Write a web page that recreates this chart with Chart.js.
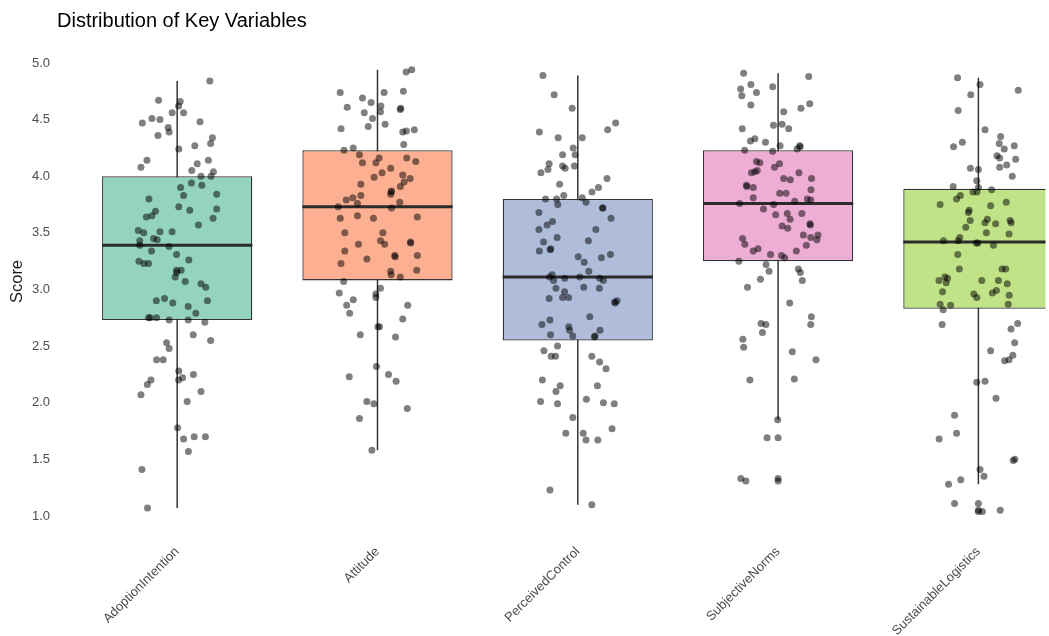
<!DOCTYPE html>
<html>
<head>
<meta charset="utf-8">
<title>Distribution of Key Variables</title>
<script src="https://cdn.jsdelivr.net/npm/chart.js@4.4.1/dist/chart.umd.min.js"></script>
<style>
  html, body { margin: 0; padding: 0; background: #ffffff; overflow: hidden; }
  canvas { display: block; }
</style>
</head>
<body>
<canvas id="chart" width="1049" height="636"></canvas>
<script>
// Variables shown along the x axis
const categories = ['AdoptionIntention', 'Attitude', 'PerceivedControl', 'SubjectiveNorms', 'SustainableLogistics'];
const yTicks = [1.0, 1.5, 2.0, 2.5, 3.0, 3.5, 4.0, 4.5, 5.0];

// Box-plot summaries per variable
const whiskerLow  = [1.07, 1.58, 1.10, 1.85, 1.28];
const quartile1   = [2.73, 3.08, 2.55, 3.25, 2.83];
const medians     = [3.39, 3.73, 3.11, 3.76, 3.42];
const quartile3   = [4.00, 4.23, 3.80, 4.23, 3.89];
const whiskerHigh = [4.84, 4.94, 4.89, 4.91, 4.87];

// Values beyond the whiskers, drawn on the box centre line
const outlierCategory = [3, 3, 3, 4, 4, 4];
const outlierValues   = [1.69, 1.33, 1.31, 1.11, 1.05, 1.04];

// Individual scores and their horizontal jitter (category units)
const adoptionScores = [
  4.84,4.67,4.66,4.62,4.56,4.56,4.47,4.51,4.50,4.48,
  4.43,4.39,4.36,4.34,4.29,4.27,4.24,4.14,4.08,4.14,
  4.11,4.05,4.04,4.00,4.00,3.94,3.92,3.90,3.83,3.84,
  3.80,3.73,3.70,3.71,3.69,3.65,3.64,3.63,3.57,3.52,
  3.50,3.51,3.51,3.45,3.44,3.43,3.39,3.38,3.34,3.31,
  3.26,3.25,3.23,3.23,3.17,3.17,3.11,3.15,3.07,3.05,
  3.02,2.90,2.92,2.88,2.90,2.85,2.79,2.75,2.75,2.75,
  2.73,2.73,2.71,2.60,2.55,2.53,2.48,2.38,2.38,2.28,
  2.20,2.22,2.25,2.20,2.16,2.07,2.10,2.01,1.78,1.68,
  1.70,1.70,1.57,1.41,1.07
];
const adoptionJitter = [
  0.163,-0.093,0.015,0.007,-0.025,0.032,-0.174,-0.126,-0.086,0.114,
  -0.045,-0.040,-0.096,0.176,0.167,0.088,0.008,-0.151,-0.181,0.156,
  0.100,0.073,0.181,0.119,0.169,0.071,0.123,0.017,0.032,0.197,
  -0.141,0.008,0.063,0.197,-0.108,-0.126,-0.154,0.179,0.106,-0.194,
  -0.167,-0.086,-0.025,-0.118,-0.100,-0.187,-0.187,-0.041,-0.128,-0.003,
  0.058,-0.191,-0.166,-0.143,-0.003,0.020,-0.010,-0.003,0.040,0.119,
  0.143,-0.104,-0.063,-0.022,0.151,0.055,0.093,-0.143,-0.134,-0.103,
  -0.040,0.055,0.138,0.080,0.167,-0.053,-0.040,-0.103,-0.070,0.008,
  0.007,0.027,0.081,-0.131,-0.149,-0.181,0.119,0.050,0.002,0.032,
  0.085,0.141,0.056,-0.176,-0.148
];

const attitudeScores = [
  4.92,4.94,4.74,4.69,4.74,4.75,4.61,4.65,4.62,4.57,
  4.56,4.59,4.51,4.44,4.46,4.42,4.39,4.40,4.41,4.28,
  4.23,4.25,4.19,4.16,4.16,4.13,4.12,4.12,4.07,4.03,
  4.01,3.98,3.99,3.95,3.93,3.91,3.86,3.84,3.83,3.79,
  3.81,3.76,3.77,3.73,3.72,3.63,3.65,3.63,3.64,3.50,
  3.50,3.43,3.40,3.40,3.42,3.34,3.30,3.30,3.27,3.23,
  3.16,3.13,3.17,3.11,3.07,2.97,3.01,2.96,2.93,2.91,
  2.86,2.86,2.79,2.74,2.67,2.67,2.60,2.58,2.32,2.23,
  2.25,2.19,2.01,1.99,1.95,1.86,1.58,
  4.60,3.87,3.41,3.29
];
const attitudeJitter = [
  0.143,0.171,-0.186,-0.075,0.033,0.129,-0.151,-0.032,0.017,0.015,
  -0.066,0.114,-0.025,-0.046,0.038,-0.182,0.126,0.144,0.184,0.131,
  -0.167,-0.121,-0.090,0.008,0.146,0.191,-0.075,-0.008,0.066,0.023,
  0.126,0.163,-0.017,0.133,-0.083,0.114,0.068,0.066,-0.083,-0.156,
  -0.123,-0.100,0.111,-0.196,0.070,-0.186,-0.100,-0.020,0.199,-0.163,
  0.027,0.015,0.036,-0.095,0.164,-0.163,0.086,0.199,-0.053,-0.182,
  0.066,0.068,0.196,0.114,-0.169,-0.191,0.015,-0.008,-0.008,-0.121,
  -0.154,0.151,-0.139,0.126,0.002,0.010,-0.086,0.090,-0.005,-0.141,
  0.055,0.093,-0.053,-0.018,0.149,-0.090,-0.028,
  0.116,0.070,0.166,0.088
];

const controlScores = [
  4.89,4.72,4.60,4.39,4.34,4.34,4.41,4.47,4.25,4.19,
  4.19,4.11,4.06,4.09,4.07,4.09,4.03,3.98,3.93,3.90,
  3.86,3.83,3.80,3.80,3.75,3.81,3.77,3.72,3.68,3.63,
  3.57,3.60,3.53,3.53,3.46,3.43,3.42,3.34,3.35,3.29,
  3.24,3.28,3.31,3.16,3.13,3.11,3.08,3.10,3.11,3.10,
  3.08,3.01,3.02,3.01,2.92,2.98,2.93,2.93,2.89,2.90,
  2.76,2.73,2.69,2.67,2.64,2.64,2.60,2.59,2.58,2.50,
  2.46,2.41,2.41,2.41,2.36,2.30,2.20,2.15,2.10,2.15,
  2.01,1.99,2.03,2.00,1.99,1.87,1.73,1.73,1.67,1.67,
  1.77,1.23,1.10,
  3.72,3.36,2.88,2.59
];
const controlJitter = [
  -0.174,-0.118,-0.028,-0.192,-0.098,0.022,0.149,0.189,-0.023,-0.013,
  -0.076,-0.143,-0.149,-0.076,-0.063,-0.017,-0.184,0.146,-0.091,0.103,
  0.071,-0.070,-0.161,-0.106,-0.100,0.022,0.041,0.123,-0.194,0.166,
  -0.153,-0.126,-0.194,0.090,-0.103,0.053,-0.171,-0.192,-0.138,0.002,
  0.032,0.118,0.163,0.055,-0.128,-0.141,-0.121,-0.065,0.010,0.109,
  0.128,-0.109,0.030,0.108,-0.143,-0.066,-0.076,-0.046,0.184,0.196,
  0.060,-0.139,-0.179,-0.045,-0.041,0.111,-0.136,-0.025,0.083,-0.101,
  -0.169,-0.133,-0.111,0.070,0.109,0.141,-0.177,-0.088,-0.109,0.098,
  -0.186,-0.101,0.043,0.128,0.182,-0.025,-0.060,0.027,0.041,0.100,
  0.171,-0.139,0.070,
  0.126,-0.135,0.187,0.086
];

const normsScores = [
  4.91,4.88,4.81,4.77,4.71,4.74,4.79,4.63,4.60,4.64,
  4.57,4.42,4.45,4.46,4.42,4.31,4.33,4.30,4.27,4.24,
  4.27,4.23,4.22,4.13,4.12,4.08,4.11,4.03,4.04,4.05,
  4.03,3.98,3.97,3.98,3.92,3.90,3.88,3.85,3.85,3.81,
  3.78,3.80,3.79,3.76,3.75,3.71,3.66,3.67,3.67,3.62,
  3.58,3.56,3.54,3.48,3.46,3.48,3.44,3.45,3.40,3.39,
  3.34,3.36,3.34,3.31,3.30,3.28,3.25,3.22,3.16,3.18,
  3.15,3.08,3.09,3.02,2.88,2.76,2.70,2.69,2.69,2.62,
  2.56,2.49,2.45,2.38,2.20,2.21,1.85,1.69,
  1.33,1.31,
  4.26,3.91,3.57
];
const normsJitter = [
  -0.172,0.153,-0.136,-0.187,-0.181,-0.108,-0.027,-0.136,0.114,0.158,
  0.028,-0.179,-0.023,0.020,0.053,-0.138,-0.116,-0.063,0.010,0.095,
  0.108,-0.167,-0.027,-0.108,-0.091,-0.018,0.007,-0.133,-0.116,-0.104,
  0.104,0.028,0.061,0.167,-0.158,-0.124,0.164,0.008,0.040,-0.124,
  0.083,0.146,0.163,-0.192,-0.022,-0.073,-0.012,0.046,0.119,0.060,
  0.159,0.020,0.048,0.126,0.163,0.199,0.194,-0.177,-0.166,0.141,
  -0.124,-0.100,0.091,-0.038,0.017,0.033,-0.196,-0.060,-0.045,0.101,
  0.111,0.121,-0.088,-0.153,0.058,0.166,-0.085,-0.061,0.163,-0.078,
  -0.176,-0.172,0.071,0.189,-0.141,0.081,-0.002,-0.055,
  -0.186,-0.161,
  0.110,-0.156,0.161
];

const logisticsScores = [
  4.87,4.81,4.72,4.76,4.58,4.41,4.26,4.30,4.35,4.29,
  4.24,4.27,4.18,4.16,4.15,4.07,4.06,4.08,4.10,4.00,
  3.96,3.91,3.90,3.86,3.86,3.88,3.83,3.80,3.75,3.77,
  3.70,3.68,3.74,3.61,3.55,3.62,3.59,3.58,3.61,3.59,
  3.50,3.49,3.46,3.43,3.43,3.41,3.41,3.39,3.31,3.18,
  3.18,3.18,3.08,3.11,3.10,3.06,3.08,3.08,3.05,2.98,
  2.96,2.93,2.97,2.99,2.95,2.87,2.86,2.82,2.87,2.69,
  2.70,2.65,2.53,2.46,2.42,2.37,2.38,2.18,2.19,2.04,
  1.89,1.68,1.73,1.49,1.50,1.41,1.35,1.28,1.32,1.11,
  1.04,1.05
];
const logisticsJitter = [
  -0.104,0.008,-0.038,0.199,-0.101,0.033,-0.124,-0.080,0.111,0.104,
  0.129,0.179,0.093,0.106,0.186,-0.040,0.000,0.106,0.141,0.169,
  -0.008,-0.126,0.000,-0.027,-0.007,0.066,-0.090,-0.109,-0.191,0.139,
  -0.046,-0.050,0.061,-0.041,-0.063,0.045,0.033,0.086,0.158,0.164,
  0.040,0.153,-0.093,-0.174,-0.101,-0.010,-0.003,0.075,-0.103,-0.095,
  0.118,0.136,-0.197,-0.167,-0.154,-0.161,0.017,0.100,0.144,-0.179,
  -0.023,-0.008,0.070,0.090,0.154,-0.191,-0.139,-0.176,0.149,-0.181,
  0.196,0.163,0.181,0.061,0.172,0.131,0.153,-0.008,0.033,0.088,
  -0.119,-0.196,-0.109,0.174,0.182,0.008,0.028,-0.149,-0.088,-0.119,
  0.020,0.109
];

// Box fills (Set2 palette, softened)
const boxFills = ['#93d3bf', '#fdaf91', '#afbddb', '#eeadd5', '#c1e387'];

const scoreSets  = [adoptionScores, attitudeScores, controlScores, normsScores, logisticsScores];
const jitterSets = [adoptionJitter, attitudeJitter, controlJitter, normsJitter, logisticsJitter];

const BOX_HALF = 0.375;
const INK = '#333333';

const pointData = [];
scoreSets.forEach((scores, i) => {
  scores.forEach((v, k) => pointData.push({ x: i + jitterSets[i][k], y: v }));
});
const outlierData = outlierValues.map((v, k) => ({ x: outlierCategory[k], y: v }));

const medianData = [];
const whiskerData = [];
categories.forEach((_, i) => {
  medianData.push({ x: i - BOX_HALF, y: medians[i] }, { x: i + BOX_HALF, y: medians[i] }, { x: i + 0.5, y: null });
  whiskerData.push({ x: i, y: whiskerLow[i] }, { x: i, y: whiskerHigh[i] }, { x: i + 0.5, y: null });
});
const boxData = categories.map((_, i) => ({ x: i, y: [quartile1[i], quartile3[i]] }));

const FONT = "'Liberation Sans', Arial, Helvetica, sans-serif";
Chart.defaults.font.family = FONT;

new Chart(document.getElementById('chart'), {
  type: 'bar',
  data: {
    datasets: [
      {
        type: 'scatter',
        data: pointData,
        pointRadius: 3.5,
        pointHoverRadius: 3.5,
        pointBackgroundColor: 'rgba(0,0,0,0.5)',
        pointBorderWidth: 0,
        order: 0
      },
      {
        type: 'scatter',
        data: outlierData,
        pointRadius: 3.5,
        pointHoverRadius: 3.5,
        pointBackgroundColor: 'rgba(0,0,0,0.5)',
        pointBorderWidth: 0,
        order: 0
      },
      {
        type: 'line',
        data: medianData,
        borderColor: '#2b2b2b',
        borderWidth: 3,
        pointRadius: 0,
        spanGaps: false,
        order: 1
      },
      {
        type: 'bar',
        data: boxData,
        backgroundColor: boxFills,
        borderColor: INK,
        borderWidth: 1.3,
        borderSkipped: false,
        barPercentage: BOX_HALF * 2,
        categoryPercentage: 1,
        order: 2
      },
      {
        type: 'line',
        data: whiskerData,
        borderColor: INK,
        borderWidth: 1.5,
        pointRadius: 0,
        spanGaps: false,
        order: 3
      }
    ]
  },
  options: {
    responsive: false,
    animation: false,
    events: [],
    layout: { padding: 0 },
    plugins: {
      legend: { display: false },
      tooltip: { enabled: false },
      title: {
        display: true,
        text: 'Distribution of Key Variables',
        align: 'start',
        fullSize: false,
        color: '#000000',
        font: { size: 20, weight: 'normal', family: FONT },
        padding: { top: 9, bottom: 8 }
      }
    },
    scales: {
      x: {
        type: 'linear',
        offset: false,
        min: -0.6,
        max: 4.335,
        grid: { display: false, drawTicks: false, offset: false },
        border: { display: false },
        afterBuildTicks: (axis) => { axis.ticks = categories.map((_, i) => ({ value: i })); },
        afterFit: (scale) => {
          scale.height = 114;
          // rotated labels may overhang the plot edges; keep the plot full width
          scale.paddingLeft = 0;
          scale.paddingRight = 0;
        },
        ticks: {
          autoSkip: false,
          minRotation: 45,
          maxRotation: 45,
          padding: 22,
          color: '#4d4d4d',
          font: { size: 13, family: FONT },
          callback: (v) => categories[v]
        }
      },
      y: {
        type: 'linear',
        min: 0.947,
        max: 5.194,
        grid: { display: false, drawTicks: false },
        border: { display: false },
        afterBuildTicks: (axis) => { axis.ticks = yTicks.map(v => ({ value: v })); },
        afterFit: (scale) => { scale.width = 57; },
        ticks: {
          padding: 7,
          color: '#4d4d4d',
          font: { size: 13, family: FONT },
          callback: (v) => Number(v).toFixed(1)
        },
        title: {
          display: true,
          text: 'Score',
          color: '#1a1a1a',
          font: { size: 16.5, family: FONT },
          padding: { top: 8, bottom: 0 }
        }
      }
    }
  }
});
</script>
</body>
</html>
